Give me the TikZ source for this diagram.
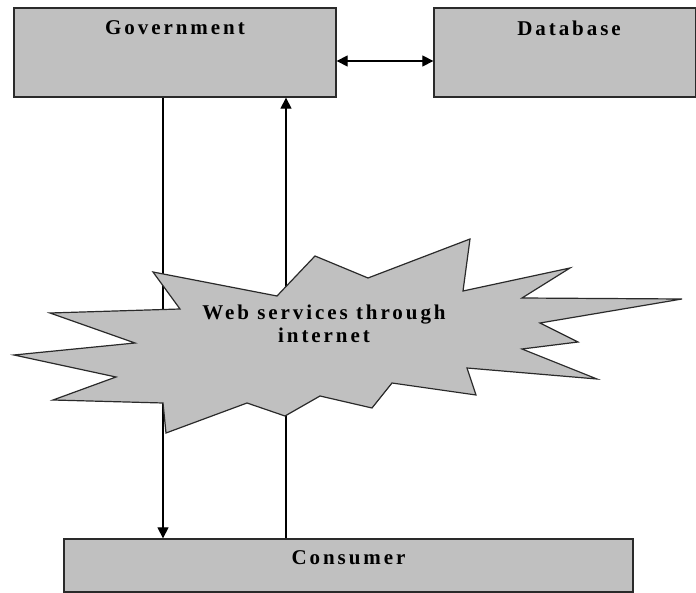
\documentclass[tikz,border=0pt]{standalone}
\usepackage{fontspec}
\setmainfont{Liberation Serif}[LetterSpace=14]
\usetikzlibrary{arrows.meta}
\definecolor{boxgray}{HTML}{C0C0C0}
\definecolor{edgec}{HTML}{2A2A2A}
\tikzset{
  box/.style={draw=edgec, line width=1.3pt, fill=boxgray, inner sep=0pt},
  lbl/.style={font=\bfseries\fontsize{21}{23}\selectfont, inner sep=0pt, align=center},
  conn/.style={draw=black, line width=1.2pt, -{Triangle[length=11pt,width=11pt]}},
  dconn/.style={draw=black, line width=1.2pt, {Triangle[length=11pt,width=11pt]}-{Triangle[length=11pt,width=11pt]}},
  burst/.style={draw=edgec, line width=1.2pt, fill=boxgray, line join=miter}
}
\begin{document}
\begin{tikzpicture}[x=1pt,y=-1pt]
\useasboundingbox (0,0) rectangle (696,593);
% boxes
\node[box, minimum width=322pt, minimum height=89pt] (gov) at (175,52.5) {};
\node[box, minimum width=262pt, minimum height=89pt] (db) at (565,52.5) {};
\node[box, minimum width=569pt, minimum height=53pt] (cons) at (348.5,565.5) {};
\node[lbl] (govt) at (175,28) {Government};
\node[lbl] (dbt) at (569,28) {Database};
\node[lbl] (const) at (348.5,558) {Consumer};
% connectors
\coordinate (ay) at (0,61);
\coordinate (lx) at (163,0);
\coordinate (rx) at (286,0);
\draw[dconn] (gov.east |- ay) -- (db.west |- ay);
\draw[conn] (gov.south -| lx) -- (cons.north -| lx);
\draw[conn] (cons.north -| rx) -- (gov.south -| rx);
% starburst
\draw[burst] (153,272) -- (277,296) -- (315,256) -- (368,278) -- (470,239)
  -- (463,291) -- (570,268) -- (522,298) -- (682,299) -- (540,323)
  -- (578,342) -- (522,349) -- (597,379) -- (467,368) -- (476,395)
  -- (392,383) -- (372,408) -- (320,396) -- (285,416) -- (247,403)
  -- (166,433) -- (163,403) -- (53,400) -- (116,377) -- (14,355)
  -- (135,343) -- (50,313) -- (180,309) -- cycle;
\node[lbl] (web) at (324,324) {Web services through\\internet};
\end{tikzpicture}
\end{document}
